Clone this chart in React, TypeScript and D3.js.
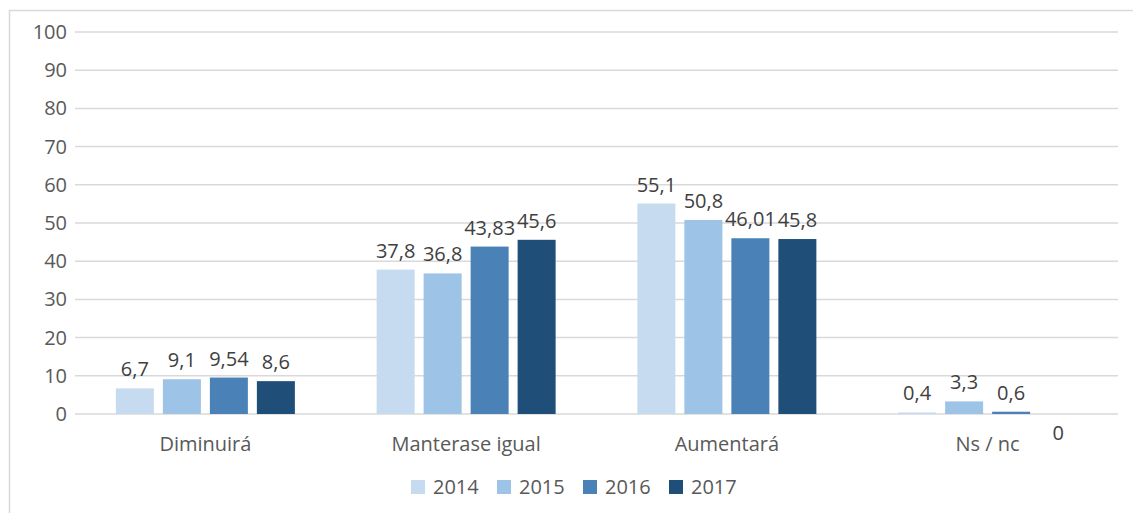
import React from "react";
import * as d3 from "d3";

const categories = ["Diminuirá", "Manterase igual", "Aumentará", "Ns / nc"];
const years = ["2014", "2015", "2016", "2017"];
const values2014 = [6.7, 37.8, 55.1, 0.4];
const values2015 = [9.1, 36.8, 50.8, 3.3];
const values2016 = [9.54, 43.83, 46.01, 0.6];
const values2017 = [8.6, 45.6, 45.8, 0];
const labels2014 = ["6,7", "37,8", "55,1", "0,4"];
const labels2015 = ["9,1", "36,8", "50,8", "3,3"];
const labels2016 = ["9,54", "43,83", "46,01", "0,6"];
const labels2017 = ["8,6", "45,6", "45,8", "0"];
const yTicks = [0, 10, 20, 30, 40, 50, 60, 70, 80, 90, 100];
const colors = ["#c6dbef", "#9dc3e6", "#4a82b8", "#1f4e79"];

const series = [values2014, values2015, values2016, values2017];
const seriesLabels = [labels2014, labels2015, labels2016, labels2017];

export default function App() {
  const W = 1133, H = 513;
  const left = 75, right = 1118, top = 32, bottom = 414;
  const x0 = d3.scaleBand<string>().domain(categories).range([left, right]).paddingInner(0).paddingOuter(0);
  const bw = x0.bandwidth();
  const groupW = 179;
  const x1 = d3.scaleBand<string>().domain(years).range([(bw - groupW) / 2, (bw + groupW) / 2]).paddingInner(9 / 47).paddingOuter(0);
  const y = d3.scaleLinear().domain([0, 100]).range([bottom, top]);
  const font = "'Open Sans', 'Liberation Sans', sans-serif";

  return (
    <svg width={W} height={H} style={{ position: "absolute", left: 0, top: 0, background: "#fff" }}>
      <rect x={9.5} y={10.5} width={1140} height={520} fill="#fff" stroke="#d9d9d9" strokeWidth={1.5} />
      {yTicks.map((t) => (
        <g key={t}>
          <line x1={left} x2={right} y1={y(t)} y2={y(t)} stroke="#d9d9d9" strokeWidth={1.5} />
          <text x={67} y={y(t)} dy="0.35em" textAnchor="end" fontFamily={font} fontSize={20} fill="#595959">{t}</text>
        </g>
      ))}
      {categories.map((c, ci) => (
        <g key={c} transform={`translate(${x0(c)},0)`}>
          {years.map((yr, si) => {
            const v = series[si][ci];
            const bx = x1(yr)!;
            const bwid = x1.bandwidth();
            const isZero = v === 0;
            return (
              <g key={yr}>
                <rect x={bx} y={y(v)} width={bwid} height={bottom - y(v)} fill={colors[si]} />
                <text
                  x={bx + bwid / 2}
                  y={isZero ? y(v) + 26 : y(v) - 12}
                  textAnchor="middle"
                  fontFamily={font}
                  fontSize={20}
                  fill="#404040"
                >
                  {seriesLabels[si][ci]}
                </text>
              </g>
            );
          })}
          <text x={bw / 2} y={451} textAnchor="middle" fontFamily={font} fontSize={20} fill="#595959">{c}</text>
        </g>
      ))}
      {years.map((yr, i) => (
        <g key={yr} transform={`translate(${411 + i * 86},480)`}>
          <rect x={0} y={0} width={14} height={14} fill={colors[i]} />
          <text x={22} y={7} dy="0.36em" fontFamily={font} fontSize={20} fill="#595959">{yr}</text>
        </g>
      ))}
    </svg>
  );
}
